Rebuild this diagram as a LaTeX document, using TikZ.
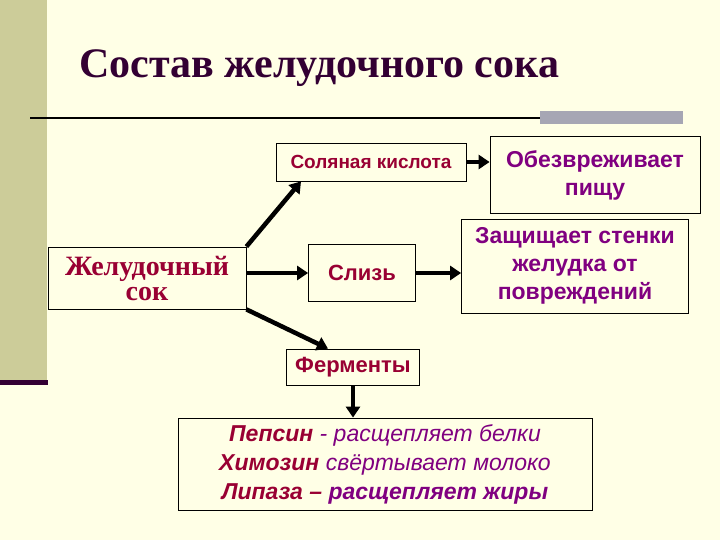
\documentclass[tikz,border=0pt]{standalone}
\usepackage{fontspec}
\usetikzlibrary{arrows.meta}
\setmainfont{Liberation Serif}
\setsansfont{Liberation Sans}
\definecolor{bg}{HTML}{FFFFE6}
\definecolor{bar}{HTML}{CCCC99}
\definecolor{dred}{HTML}{990033}
\definecolor{purp}{HTML}{800080}
\definecolor{ttl}{HTML}{330033}
\definecolor{gbar}{HTML}{A6A6B4}
\begin{document}
\begin{tikzpicture}[x=1pt,y=-1pt,
  bx/.style={draw=black,fill=bg,line width=0.8pt},
  arr/.style={line width=4.5pt,-{Triangle[length=11pt,width=14pt]}},
  lab/.style={font=\sffamily\bfseries\fontsize{22}{24}\selectfont,align=center}]
\fill[bg] (0,0) rectangle (720,540);
\useasboundingbox (0,0) rectangle (720,540);
\fill[bar] (0,0) rectangle (47,382);
\fill[ttl] (0,380) rectangle (48,385);
\node[anchor=west,text=ttl,font=\bfseries\fontsize{42}{46}\selectfont] (title) at (76,68) {Состав желудочного сока};
\draw[line width=2pt] (30,118) -- (540,118);
\fill[gbar] (540,111) rectangle (683,124);
\node[bx,minimum width=198pt,minimum height=62pt,text=dred,font=\bfseries\fontsize{28}{25}\selectfont,align=center] (zh) at (147,278) {Желудочный\\сок};
\node[bx,minimum width=190pt,minimum height=38pt,text=dred,font=\sffamily\bfseries\fontsize{19}{20}\selectfont] (sk) at (371,162) {Соляная кислота};
\node[bx,lab,minimum width=210pt,minimum height=77pt,text=purp,font=\sffamily\bfseries\fontsize{23}{28}\selectfont] (ob) at (595,175) {Обезвреживает\\пищу};
\node[bx,lab,minimum width=107pt,minimum height=57pt,text=dred,font=\sffamily\bfseries\fontsize{22}{24}\selectfont] (sl) at (362,273) {Слизь};
\node[bx,lab,minimum width=227pt,minimum height=94pt,text=purp,font=\sffamily\bfseries\fontsize{23}{28}\selectfont] (zs) at (575,266) {Защищает стенки\\желудка от\\повреждений};
\node[bx,lab,minimum width=133pt,minimum height=36pt,text=dred] (fe) at (353,367) {Ферменты};
\node[bx,minimum width=414pt,minimum height=92pt,align=center,font=\sffamily\itshape\fontsize{23}{29}\selectfont] (en) at (385,464)
 {{\bfseries\color{dred}Пепсин} \color{purp}- расщепляет белки\\
  {\bfseries\color{dred}Химозин} \color{purp}свёртывает молоко\\
  {\bfseries\color{dred}Липаза – \color{purp}расщепляет жиры}};
\draw[arr] (zh.north east) -- ([xshift=-70pt]sk.south);
\draw[arr] (sk.east) -- (ob.west |- sk.east);
\draw[arr] (zh.east |- sl.west) -- (sl.west);
\draw[arr] (sl.east) -- (zs.west |- sl.east);
\draw[arr] (zh.south east) -- ([xshift=-25pt]fe.north);
\draw[arr] (fe.south) -- (en.north -| fe.south);
\end{tikzpicture}
\end{document}
